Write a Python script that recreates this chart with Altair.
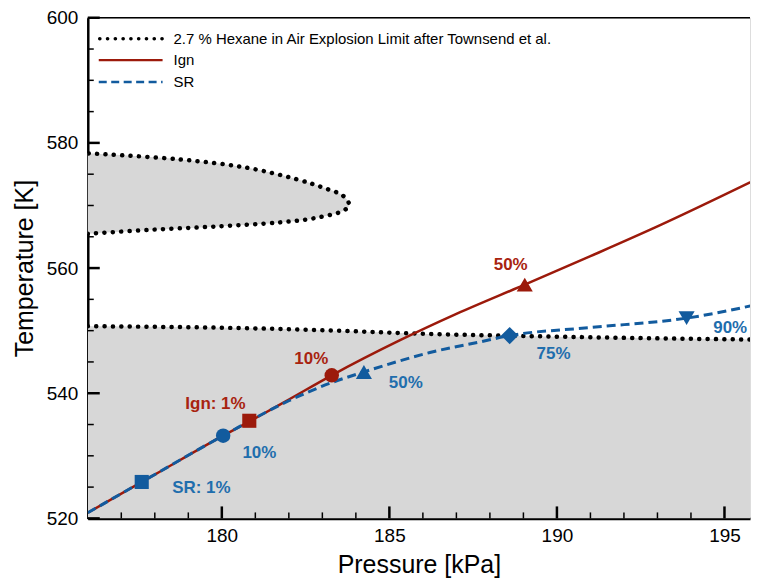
import altair as alt
import pandas as pd

# ---------------- data ----------------
# Explosion limit, upper closed lobe (ordered by temperature along outline)
lobe_P = [176.0, 177.78, 179.75, 181.74, 182.73, 183.62, 183.80, 183.62, 183.02, 182.24, 180.75, 178.77, 176.0]
lobe_T = [565.48, 566.08, 566.62, 567.30, 567.94, 569.16, 570.05, 571.54, 572.86, 574.18, 576.03, 577.35, 578.33]

# Explosion limit, lower branch
lim_P = [176.0, 180.91, 183.83, 185.85, 188.89, 192.46, 196.0]
lim_T = [550.71, 550.37, 549.92, 549.52, 549.16, 548.81, 548.57]

# Ign curve
ign_P = [176.0, 178.0, 180.0, 181.0, 182.0, 183.28, 185.32, 187.0, 189.04, 191.0, 193.0, 196.0]
ign_T = [520.9, 527.0, 533.1, 536.0, 539.0, 542.86, 548.47, 552.67, 557.35, 561.9, 566.65, 574.3]

# SR curve
sr_P = [176.0, 177.61, 180.04, 182.0, 183.28, 184.24, 185.2, 186.21, 187.7, 188.59, 191.0, 193.87, 196.0]
sr_T = [520.9, 525.82, 533.22, 538.8, 541.7, 543.4, 545.0, 546.5, 548.2, 549.21, 550.5, 552.0, 554.2]

# markers
mk_series = ["Ign", "Ign", "Ign", "SR", "SR", "SR", "SR", "SR"]
mk_P = [180.82, 183.28, 189.04, 177.61, 180.04, 184.24, 188.59, 193.87]
mk_T = [535.6, 542.86, 557.35, 525.82, 533.22, 543.4, 549.21, 552.0]
mk_shape = ["square", "circle", "triangle-up", "square", "circle", "triangle-up", "diamond", "triangle-down"]
mk_size = [200, 210, 260, 200, 210, 260, 300, 260]

# annotations
lb_series = ["Ign", "Ign", "Ign", "SR", "SR", "SR", "SR", "SR"]
lb_text = ["Ign: 1%", "10%", "50%", "SR: 1%", "10%", "50%", "75%", "90%"]
lb_P = [179.81, 182.67, 188.62, 179.39, 181.12, 185.49, 189.90, 195.17]
lb_T = [538.25, 545.40, 560.48, 524.92, 530.48, 541.59, 546.19, 550.48]

x_major = [180, 185, 190, 195]
x_minor = [177, 178, 179, 181, 182, 183, 184, 186, 187, 188, 189, 191, 192, 193, 194]
y_major = [520, 540, 560, 580, 600]
y_minor = [525, 530, 535, 545, 550, 555, 565, 570, 575, 585, 590, 595]

legend_labels = ["2.7 % Hexane in Air Explosion Limit after Townsend et al.", "Ign", "SR"]

# ---------------- style ----------------
W, H = 664, 502
P_MAX = 176 + W / 33.6
FONT = "Liberation Sans"
RED = "#9C1A0B"
BLUE = "#125B9E"
RED_TXT = "#A8230F"
BLUE_TXT = "#1F6EAD"
GREY = "#D7D7D7"
color_of = {"Ign": RED, "SR": BLUE}
txt_color_of = {"Ign": RED_TXT, "SR": BLUE_TXT}

x_scale = alt.Scale(domain=[176, P_MAX], nice=False, zero=False)
y_scale = alt.Scale(domain=[520, 600], nice=False, zero=False)
x_axis = alt.Axis(values=x_major, ticks=False, grid=False, domainWidth=2.5, domainColor="black",
                  labelFontSize=19, labelPadding=8, labelFont=FONT, labelColor="black",
                  titleFontSize=25, titleFont=FONT, titleFontWeight="normal", titlePadding=7,
                  titleColor="black")
y_axis = alt.Axis(values=y_major, ticks=False, grid=False, domainWidth=2.5, domainColor="black",
                  labelFontSize=19, labelPadding=10, labelFont=FONT, labelColor="black",
                  titleFontSize=25, titleFont=FONT, titleFontWeight="normal", titlePadding=9,
                  titleColor="black")


def X():
    return alt.X("P:Q", scale=x_scale, axis=x_axis, title="Pressure [kPa]")


def Y():
    return alt.Y("T:Q", scale=y_scale, axis=y_axis, title="Temperature [K]")


lobe_df = pd.DataFrame({"P": lobe_P, "T": lobe_T, "i": range(len(lobe_P))})
lim_df = pd.DataFrame({"P": lim_P, "T": lim_T})
ign_df = pd.DataFrame({"P": ign_P, "T": ign_T})
sr_df = pd.DataFrame({"P": sr_P, "T": sr_T})
mk_df = pd.DataFrame({"P": mk_P, "T": mk_T, "shape": mk_shape, "size": mk_size,
                      "c": [color_of[s] for s in mk_series]})
lb_df = pd.DataFrame({"P": lb_P, "T": lb_T, "text": lb_text,
                      "c": [txt_color_of[s] for s in lb_series]})

lobe_fill = alt.Chart(lobe_df).mark_area(orient="horizontal", color=GREY, clip=True,
                                         interpolate="catmull-rom").encode(
    y=Y(), x=X(), x2=alt.value(0))
lim_fill = alt.Chart(lim_df).mark_area(color=GREY, clip=True, interpolate="monotone").encode(
    x=X(), y=Y(), y2=alt.datum(520))

dot_style = dict(color="black", strokeWidth=4.5, strokeCap="round", strokeDash=[0.1, 8.3], clip=True)
lobe_line = alt.Chart(lobe_df).mark_line(interpolate="catmull-rom", **dot_style).encode(
    x=X(), y=Y(), order=alt.Order("i:Q"))
lim_line = alt.Chart(lim_df).mark_line(interpolate="monotone", **dot_style).encode(x=X(), y=Y())

ign_line = alt.Chart(ign_df).mark_line(color=RED, strokeWidth=2.5, interpolate="monotone", clip=True).encode(
    x=X(), y=Y())
sr_line = alt.Chart(sr_df).mark_line(color=BLUE, strokeWidth=3, strokeDash=[9, 5], interpolate="monotone",
                                     clip=True).encode(x=X(), y=Y())

markers = alt.Chart(mk_df).mark_point(filled=True, opacity=1, strokeWidth=0).encode(
    x=X(), y=Y(),
    shape=alt.Shape("shape:N", scale=None),
    size=alt.Size("size:Q", scale=None),
    color=alt.Color("c:N", scale=None))

labels = alt.Chart(lb_df).mark_text(font=FONT, fontSize=17, fontWeight="bold", align="center",
                                    baseline="middle").encode(
    x=X(), y=Y(), text="text:N", color=alt.Color("c:N", scale=None))

# inward tick marks
xmaj = alt.Chart(pd.DataFrame({"P": x_major})).mark_rule(color="black", strokeWidth=2.5).encode(
    x=X(), y=alt.value(H), y2=alt.value(H - 12))
xmin = alt.Chart(pd.DataFrame({"P": x_minor})).mark_rule(color="black", strokeWidth=1.5).encode(
    x=X(), y=alt.value(H), y2=alt.value(H - 6))
ymaj = alt.Chart(pd.DataFrame({"T": y_major})).mark_rule(color="black", strokeWidth=2.5).encode(
    y=Y(), x=alt.value(0), x2=alt.value(12))
ymin = alt.Chart(pd.DataFrame({"T": y_minor})).mark_rule(color="black", strokeWidth=1.5).encode(
    y=Y(), x=alt.value(0), x2=alt.value(6))

one = alt.Data(values=[{"a": 1}])
top_border = alt.Chart(one).mark_rule(color="black", strokeWidth=1.5).encode(
    x=alt.value(0), x2=alt.value(W), y=alt.value(0))

# legend (inside plot, top-left)
leg_y = [21, 42.5, 64.5]
leg1 = alt.Chart(one).mark_rule(color="black", strokeWidth=3.6, strokeCap="round",
                                strokeDash=[0.1, 7.7]).encode(
    x=alt.value(12), x2=alt.value(75), y=alt.value(leg_y[0]))
leg2 = alt.Chart(one).mark_rule(color=RED, strokeWidth=2.5).encode(
    x=alt.value(11), x2=alt.value(75), y=alt.value(leg_y[1]))
leg3 = alt.Chart(one).mark_rule(color=BLUE, strokeWidth=2.5, strokeDash=[8, 4.5]).encode(
    x=alt.value(11), x2=alt.value(75), y=alt.value(leg_y[2]))
leg_txt = [alt.Chart(one).mark_text(font=FONT, fontSize=15, align="left", baseline="middle",
                                    color="black", text=t).encode(
    x=alt.value(86), y=alt.value(yy)) for t, yy in zip(legend_labels, leg_y)]

chart = alt.layer(
    lim_fill, lobe_fill, xmin, xmaj, ymin, ymaj, lobe_line, lim_line, ign_line, sr_line, markers, labels,
    top_border, leg1, leg2, leg3, *leg_txt
).properties(
    width=W, height=H,
    padding={"left": 4, "top": 0, "right": 0, "bottom": 0},
).configure_view(stroke=None).configure(background="white")

chart.save("out.html", embed_options={"renderer": "svg", "actions": False})
